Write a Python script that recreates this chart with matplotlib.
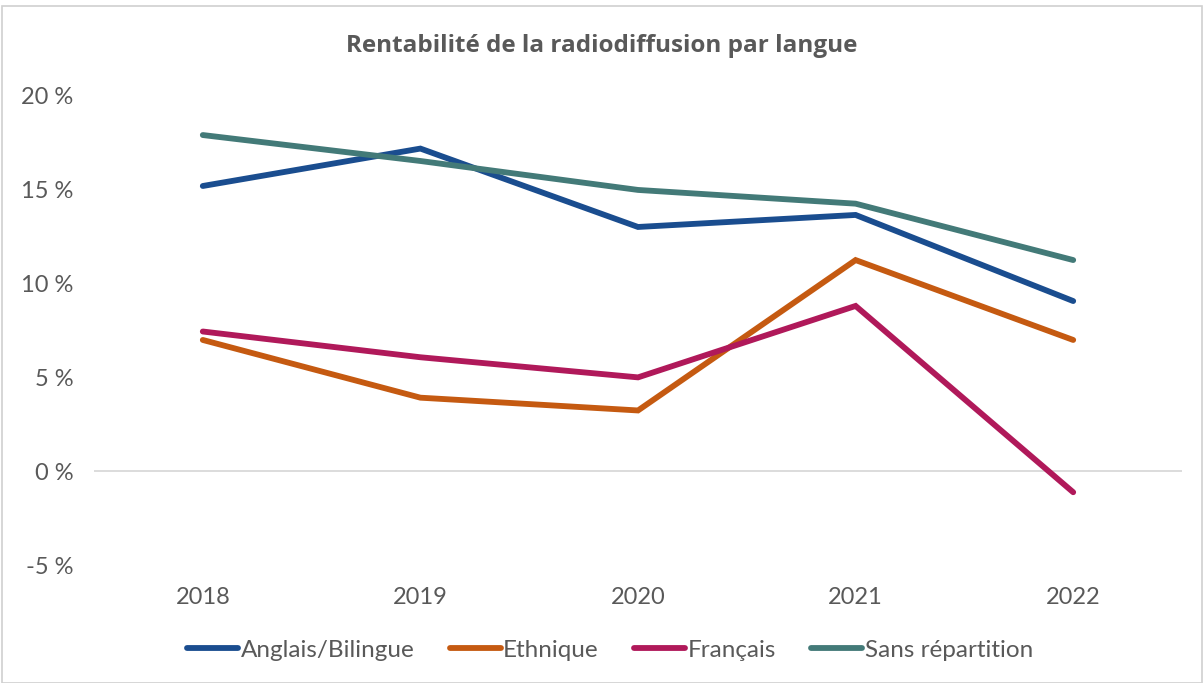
import matplotlib
matplotlib.use("Agg")
import matplotlib.pyplot as plt
from matplotlib.patches import Rectangle

years = ["2018", "2019", "2020", "2021", "2022"]
anglais = [15.16, 17.15, 12.98, 13.62, 9.04]
ethnique = [6.97, 3.90, 3.22, 11.22, 6.97]
francais = [7.42, 6.05, 4.98, 8.78, -1.13]
sans_rep = [17.87, 16.49, 14.95, 14.22, 11.22]
series_names = ["Anglais/Bilingue", "Ethnique", "Français", "Sans répartition"]
colors = ["#1A4D8F", "#C55A11", "#B0195A", "#437A78"]
yticks = [-5, 0, 5, 10, 15, 20]
ytick_labels = ["-5 %", "0 %", "5 %", "10 %", "15 %", "20 %"]

W, H = 1204, 683
fig = plt.figure(figsize=(W / 100, H / 100), dpi=100)
fig.patch.set_facecolor("white")
fig.patches.append(Rectangle((2 / W, 0.0), (W - 4) / W, (H - 6) / H, transform=fig.transFigure,
                             fill=False, edgecolor="#D0D0D0", linewidth=1.2))

ax = fig.add_axes([94 / W, 1 - 565 / H, (1182 - 94) / W, (565 - 95) / H])
x = list(range(len(years)))
for vals, name, c in zip([anglais, ethnique, francais, sans_rep], series_names, colors):
    ax.plot(x, vals, color=c, linewidth=4.2, solid_capstyle="round", solid_joinstyle="miter", label=name)

ax.set_xlim(-0.5, 4.5)
ax.set_ylim(-5, 20)
ax.axhline(0, color="#D9D9D9", linewidth=1.3, zorder=0)
for s in ax.spines.values():
    s.set_visible(False)
ax.set_yticks(yticks)
ax.set_yticklabels(ytick_labels)
ax.set_xticks(x)
ax.set_xticklabels(years)
ax.tick_params(length=0, labelsize=17, labelcolor="#595959")
ax.tick_params(axis="y", pad=15)
ax.tick_params(axis="x", pad=16)
for lbl in ax.get_yticklabels() + ax.get_xticklabels():
    lbl.set_family("Lato")
for lbl in ax.get_yticklabels():
    lbl.set_horizontalalignment("right")

fig.text(0.5, 1 - 46 / H, "Rentabilité de la radiodiffusion par langue", ha="center", va="center",
         fontsize=17.5, fontweight="bold", color="#595959", family="Open Sans")

leg = fig.legend(loc="center", bbox_to_anchor=(610 / W, 1 - 650 / H), ncol=4, frameon=False,
                 prop={"family": "Lato", "size": 17.5}, handlelength=2.1, handletextpad=0.1,
                 columnspacing=1.45)
for t in leg.get_texts():
    t.set_color("#595959")

fig.savefig("out.png", dpi=100, facecolor="white")
